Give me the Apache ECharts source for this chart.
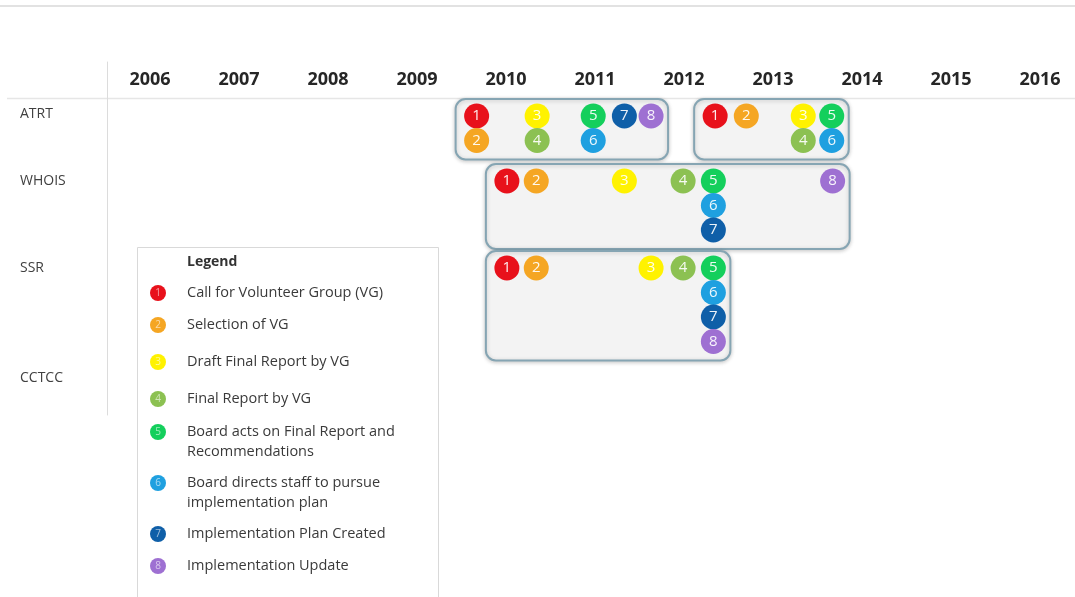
<!DOCTYPE html>
<html>
<head>
<meta charset="utf-8">
<script src="https://cdn.jsdelivr.net/npm/echarts@6/dist/echarts.min.js"></script>
<style>
html,body{margin:0;padding:0;background:#fff;}
#chart{width:1075px;height:597px;}
</style>
</head>
<body>
<div id="chart"></div>
<script>
// ---------- data ----------
const years = [2006, 2007, 2008, 2009, 2010, 2011, 2012, 2013, 2014, 2015, 2016];
const rows = ['ATRT', 'WHOIS', 'SSR', 'CCTCC'];
const steps = [
  'Call for Volunteer Group (VG)',
  'Selection of VG',
  'Draft Final Report by VG',
  'Final Report by VG',
  'Board acts on Final Report and\nRecommendations',
  'Board directs staff to pursue\nimplementation plan',
  'Implementation Plan Created',
  'Implementation Update'
];
// events: [step number, date (year), stack level]
const atrtReview1 = [[1, 2009.67, 0], [2, 2009.67, 1], [3, 2010.35, 0], [4, 2010.35, 1], [5, 2010.98, 0], [6, 2010.98, 1], [7, 2011.33, 0], [8, 2011.63, 0]];
const atrtReview2 = [[1, 2012.35, 0], [2, 2012.70, 0], [3, 2013.34, 0], [4, 2013.34, 1], [5, 2013.66, 0], [6, 2013.66, 1]];
const whoisReview = [[1, 2010.01, 0], [2, 2010.34, 0], [3, 2011.33, 0], [4, 2011.99, 0], [5, 2012.33, 0], [6, 2012.33, 1], [7, 2012.33, 2], [8, 2013.67, 0]];
const ssrReview = [[1, 2010.01, 0], [2, 2010.34, 0], [3, 2011.63, 0], [4, 2011.99, 0], [5, 2012.33, 0], [6, 2012.33, 1], [7, 2012.33, 2], [8, 2012.33, 3]];
const groups = [
  { row: 0, events: atrtReview1 },
  { row: 0, events: atrtReview2 },
  { row: 1, events: whoisReview },
  { row: 2, events: ssrReview }
];

// ---------- layout / style ----------
const stepColors = ['#e8111b', '#f5a623', '#fff200', '#8cc152', '#14cf5c', '#1fa0e0', '#0f5fa8', '#9e70d2'];
const rowTop = [54, 119, 206, 316];      // y (px units in grid) of first circle line per row
const rowLabelPos = [52, 119, 206, 316];
const levelStep = 24.5;
const legendY = [293, 325, 362, 399, 432, 483, 534, 566];
const FONT = '"Open Sans", "Noto Sans", sans-serif';

const scatterData = [];
groups.forEach(g => g.events.forEach(e => {
  scatterData.push([e[1], rowTop[g.row] + e[2] * levelStep, e[0]]);
}));

const boxData = groups.map((g, i) => [i, g.events[0][1], rowTop[g.row]]);

// legend graphics
const legendElems = [
  { type: 'rect', shape: { x: 137.5, y: 247.5, width: 301, height: 380 }, style: { fill: '#fff', stroke: '#d9d9d9', lineWidth: 1 }, z: 1 },
  { type: 'text', x: 187, y: 262, style: { text: 'Legend', font: 'bold 14px ' + FONT, fill: '#333', verticalAlign: 'middle' }, z: 2 }
];
steps.forEach((s, i) => {
  legendElems.push({ type: 'circle', shape: { cx: 158, cy: legendY[i], r: 8 }, style: { fill: stepColors[i] }, z: 2 });
  legendElems.push({ type: 'text', x: 158, y: legendY[i] + 0.5, style: { text: String(i + 1), font: '10px ' + FONT, fill: 'rgba(255,255,255,0.6)', align: 'center', verticalAlign: 'middle' }, z: 3 });
  legendElems.push({ type: 'text', x: 187, y: legendY[i] - 10, style: { text: s, font: '14.5px ' + FONT, fill: '#3a3a3a', lineHeight: 20, verticalAlign: 'top' }, z: 2 });
});

const chart = echarts.init(document.getElementById('chart'), null, { renderer: 'canvas' });
chart.setOption({
  backgroundColor: '#fff',
  animation: false,
  grid: { left: 107, right: 0, top: 62, bottom: 182 },
  xAxis: {
    type: 'value',
    position: 'top',
    min: 2006 - 43 / 89,
    max: 2006 - 43 / 89 + 968 / 89,
    axisLine: { show: false },
    axisTick: { show: false },
    splitLine: { show: false },
    axisLabel: {
      inside: true,
      margin: 9,
      customValues: years,
      formatter: v => String(Math.round(v)),
      fontFamily: FONT,
      fontWeight: 'bold',
      fontSize: 18,
      color: '#262626'
    }
  },
  yAxis: {
    type: 'value',
    inverse: true,
    min: 0,
    max: 353,
    axisLine: { show: true, lineStyle: { color: '#dcdcdc', width: 1 } },
    axisTick: { show: false },
    splitLine: { show: false },
    axisLabel: {
      customValues: rowLabelPos,
      align: 'left',
      margin: 87,
      formatter: (v, idx) => { const k = rowLabelPos.indexOf(v); return rows[k >= 0 ? k : idx]; },
      fontFamily: FONT,
      fontSize: 14,
      color: '#404040'
    }
  },
  graphic: [
    { type: 'line', shape: { x1: 0, y1: 6, x2: 1075, y2: 6 }, style: { stroke: '#e2e2e2', lineWidth: 2 } },
    { type: 'line', shape: { x1: 7, y1: 98.5, x2: 1075, y2: 98.5 }, style: { stroke: '#e6e6e6', lineWidth: 1.5 } }
  ].concat(legendElems),
  series: [
    {
      type: 'custom',
      clip: false,
      z: 2,
      encode: { x: 1, y: 2 },
      data: boxData,
      renderItem: function (params, api) {
        const g = groups[api.value(0)];
        const pts = g.events.map(e => api.coord([e[1], rowTop[g.row] + e[2] * levelStep]));
        const xs = pts.map(p => p[0]), ys = pts.map(p => p[1]);
        const x0 = Math.min.apply(null, xs) - 21, x1 = Math.max.apply(null, xs) + 17;
        const y0 = Math.min.apply(null, ys) - 17, y1 = Math.max.apply(null, ys) + 19;
        return {
          type: 'rect',
          shape: { x: x0, y: y0, width: x1 - x0, height: y1 - y0, r: 10 },
          style: { fill: '#f3f3f3', stroke: '#86a5b3', lineWidth: 2, shadowBlur: 4, shadowOffsetY: 1, shadowColor: 'rgba(0,0,0,0.2)' }
        };
      }
    },
    {
      type: 'scatter',
      z: 3,
      symbol: 'circle',
      symbolSize: 25,
      data: scatterData,
      itemStyle: { color: p => stepColors[p.value[2] - 1], opacity: 1 },
      label: {
        show: true,
        position: 'inside',
        formatter: p => String(p.value[2]),
        color: 'rgba(255,255,255,0.92)',
        fontFamily: FONT,
        fontSize: 15
      }
    }
  ]
});
</script>
</body>
</html>
